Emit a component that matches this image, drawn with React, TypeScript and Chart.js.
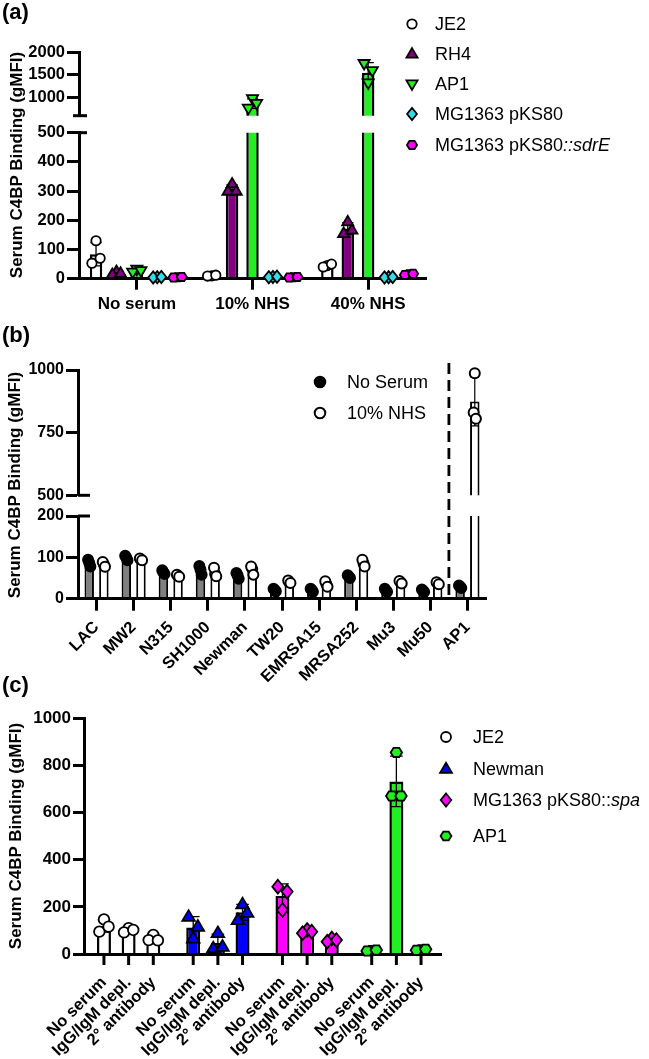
import React, { useEffect, useRef } from 'react';
import { Chart, registerables } from 'chart.js';

Chart.register(...registerables);

const FONT = "'Liberation Sans', Arial, Helvetica, sans-serif";
Chart.defaults.font.family = FONT;
Chart.defaults.color = '#000';

// ---------------- Panel (a) ----------------
const aCategories = ['No serum', '10% NHS', '40% NHS'];
const aSeries = ['JE2', 'RH4', 'AP1', 'MG1363 pKS80', 'MG1363 pKS80::sdrE'];
const aItalic = '::sdrE';
const aColors = ['#ffffff', '#800080', '#22ee22', '#33dde8', '#ff00ff'];
const aShapes = ['circle', 'triangle', 'triangleDown', 'diamond', 'hexagon'];
const aJE2 = [84, 10, 45];
const aJE2Err = [40, 2, 5];
const aJE2Pts = [[130, 53, 70], [10, 9, 12], [45, 40, 50]];
const aRH4 = [20, 308, 172];
const aRH4Err = [5, 14, 20];
const aRH4Pts = [[25, 15, 19], [325, 300, 300], [195, 155, 167]];
const aAP1 = [27, 865, 1550];
const aAP1Err = [5, 105, 220];
const aAP1Pts = [[32, 22, 27], [975, 765, 870], [1320, 1750, 1590]];
const aMG = [5, 6, 5];
const aMGErr = [1, 1, 1];
const aMGPts = [[5, 4, 6], [6, 5, 7], [5, 4, 6]];
const aSdrE = [5, 5, 15];
const aSdrEErr = [1, 1, 2];
const aSdrEPts = [[5, 4, 6], [5, 4, 6], [15, 13, 17]];
const aTopTicks = [1000, 1500, 2000];
const aTopRange = [600, 2000];
const aBottomRange = [0, 500];

// ---------------- Panel (b) ----------------
const bStrains = ['LAC', 'MW2', 'N315', 'SH1000', 'Newman', 'TW20', 'EMRSA15', 'MRSA252', 'Mu3', 'Mu50', 'AP1'];
const bSeries = ['No Serum', '10% NHS'];
const bDividerAfter = 'Mu50';
const bNoSerum = [86, 99, 64, 69, 56, 21, 21, 53, 20, 19, 29];
const bNoSerumErr = [8, 5, 4, 10, 7, 3, 3, 3, 3, 3, 3];
const bNoSerumPts = [[87, 94, 78], [99, 104, 93], [64, 69, 60], [70, 79, 58], [57, 62, 48], [21, 24, 18], [21, 24, 17], [53, 57, 50], [20, 24, 17], [19, 22, 16], [29, 32, 26]];
const bNHS = [83, 95, 55, 63, 69, 41, 35, 86, 40, 37, 874];
const bNHSErr = [6, 2, 3, 11, 10, 3, 6, 8, 3, 3, 97];
const bNHSPts = [[83, 89, 77], [95, 97, 93], [55, 58, 53], [60, 75, 54], [72, 78, 58], [40, 44, 38], [35, 42, 29], [86, 94, 78], [40, 43, 37], [37, 40, 35], [987, 830, 805]];
const bTopRange = [500, 1000];
const bBottomRange = [0, 200];

// ---------------- Panel (c) ----------------
const cGroups = ['JE2', 'Newman', 'MG1363 pKS80::spa', 'AP1'];
const cItalic = 'spa';
const cConditions = ['No serum', 'IgG/IgM depl.', '2° antibody'];
const cColors = ['#ffffff', '#0000ff', '#ff00ff', '#22ee22'];
const cShapes = ['circle', 'triangle', 'diamond', 'hexagon'];
const cNoSerum = [119, 113, 246, 15];
const cNoSerumErr = [26, 46, 52, 2];
const cNoSerumPts = [[147, 95, 116], [66, 158, 116], [187, 286, 265], [15, 13, 17]];
const cIgG = [101, 48, 95, 733];
const cIgGErr = [9, 36, 7, 107];
const cIgGPts = [[110, 92, 102], [89, 24, 31], [102, 88, 95], [856, 671, 671]];
const c2nd = [66, 177, 59, 18];
const c2ndErr = [11, 34, 7, 3];
const c2ndPts = [[81, 59, 58], [211, 144, 175], [66, 52, 59], [18, 16, 20]];
const cRange = [0, 1000];

// ---------------- helpers ----------------
function markerPath(shape: string, x: number, y: number, r: number): string {
  switch (shape) {
    case 'triangle': {
      const t = r * 1.25;
      return `M ${x} ${y - t} L ${x + t * 0.95} ${y + t * 0.62} L ${x - t * 0.95} ${y + t * 0.62} Z`;
    }
    case 'triangleDown': {
      const t = r * 1.25;
      return `M ${x} ${y + t} L ${x + t * 0.95} ${y - t * 0.62} L ${x - t * 0.95} ${y - t * 0.62} Z`;
    }
    case 'diamond':
      return `M ${x} ${y - r * 1.3} L ${x + r * 1.05} ${y} L ${x} ${y + r * 1.3} L ${x - r * 1.05} ${y} Z`;
    case 'hexagon': {
      let d = '';
      for (let k = 0; k < 6; k++) {
        const ang = (Math.PI / 3) * k;
        d += `${k === 0 ? 'M' : 'L'} ${x + r * 1.08 * Math.cos(ang)} ${y + r * 1.0 * Math.sin(ang)} `;
      }
      return d + 'Z';
    }
    default:
      return `M ${x + r} ${y} A ${r} ${r} 0 1 0 ${x - r} ${y} A ${r} ${r} 0 1 0 ${x + r} ${y} Z`;
  }
}

const JITTER = [0, -1, 1];
const pick = (v: any, i: number) => (Array.isArray(v) ? v[i] : v);

const overlayPlugin = {
  id: 'overlay',
  afterDraw(chart: any, _args: any, o: any) {
    if (!o || !o.r) return;
    const ctx: CanvasRenderingContext2D = chart.ctx;
    const a = chart.chartArea;
    const xs = chart.scales.x;
    const ys = chart.scales.y;
    ctx.save();
    ctx.strokeStyle = '#000';
    if (o.dash) {
      const i = o.dash.after;
      const x = (xs.getPixelForValue(i) + xs.getPixelForValue(i + 1)) / 2;
      ctx.lineWidth = 2.8;
      ctx.setLineDash([11, 6]);
      ctx.beginPath();
      ctx.moveTo(x, a.top - o.dash.above);
      ctx.lineTo(x, o.dash.toCanvas ? chart.height : a.bottom);
      ctx.stroke();
      ctx.setLineDash([]);
    }
    ctx.lineWidth = 3;
    if (o.breakBottom) {
      ctx.beginPath();
      ctx.moveTo(a.left - o.breakBottom[0], a.bottom);
      ctx.lineTo(a.left + o.breakBottom[1], a.bottom);
      ctx.stroke();
    }
    if (o.breakTop) {
      ctx.beginPath();
      ctx.moveTo(a.left - o.breakTop[0], a.top);
      ctx.lineTo(a.left + o.breakTop[1], a.top);
      ctx.stroke();
    }
    if (o.barLabels) {
      ctx.font = `bold ${o.labelSize}px ${FONT}`;
      ctx.fillStyle = '#000';
      chart.data.datasets.forEach((_ds: any, di: number) => {
        chart.getDatasetMeta(di).data.forEach((bar: any) => {
          ctx.lineWidth = 3;
          ctx.beginPath();
          ctx.moveTo(bar.x, a.bottom);
          ctx.lineTo(bar.x, a.bottom + o.tickLen);
          ctx.stroke();
          ctx.save();
          ctx.translate(bar.x + o.labelDx, a.bottom + o.tickLen + o.labelDy);
          ctx.rotate(-Math.PI / 4);
          ctx.textAlign = 'right';
          ctx.textBaseline = 'middle';
          ctx.fillText(o.barLabels[di], 0, 0);
          ctx.restore();
        });
      });
    }
    const top = o.clipTop ? a.top : 0;
    const bottom = o.clipBottom ? a.bottom : chart.height;
    ctx.beginPath();
    ctx.rect(0, top, chart.width, bottom - top);
    ctx.clip();
    chart.data.datasets.forEach((ds: any, di: number) => {
      const meta = chart.getDatasetMeta(di);
      meta.data.forEach((bar: any, i: number) => {
        const mean = ds.data[i];
        const err = ds.errors ? ds.errors[i] : 0;
        const x = bar.x;
        const w = bar.width;
        if (err) {
          const y1 = ys.getPixelForValue(mean + err);
          const y0 = ys.getPixelForValue(Math.max(mean - err, 0));
          const c = (w * o.capFrac) / 2;
          ctx.lineWidth = o.errWidth;
          ctx.strokeStyle = '#000';
          ctx.beginPath();
          ctx.moveTo(x, y0);
          ctx.lineTo(x, y1);
          ctx.moveTo(x - c, y1);
          ctx.lineTo(x + c, y1);
          ctx.moveTo(x - c, y0);
          ctx.lineTo(x + c, y0);
          ctx.stroke();
        }
        const pts: number[] = ds.points ? ds.points[i] : [];
        const shape = pick(ds.markerShape, i);
        const fill = pick(ds.markerFill, i);
        pts.forEach((v, k) => {
          const dx = JITTER[k % 3] * w * o.jitter;
          const p = new Path2D(markerPath(shape, x + dx, ys.getPixelForValue(v), o.r));
          ctx.fillStyle = fill;
          ctx.fill(p);
          ctx.lineWidth = o.mlw;
          ctx.strokeStyle = '#000';
          ctx.stroke(p);
        });
      });
    });
    ctx.restore();
  },
};

interface Spec {
  labels: string[];
  datasets: any[];
  canvasTop: number;
  canvasHeight: number;
  areaLeft: number;
  areaRight: number;
  areaTop: number;
  areaBottom: number;
  yRange: number[];
  yStep?: number;
  yTicks?: number[];
  yFont: number;
  yTickLen: number;
  xDisplay: boolean;
  xLabels?: boolean;
  xRotation?: number;
  xFont?: number;
  xTickLen?: number;
  xPad?: number;
  cp: number;
  bp: number;
  borderWidth: number;
  overlay: any;
}

function makeConfig(p: Spec): any {
  const xHeight = p.canvasTop + p.canvasHeight - p.areaBottom;
  return {
    type: 'bar',
    data: {
      labels: p.labels,
      datasets: p.datasets.map((d) => ({
        ...d,
        borderColor: '#000',
        borderWidth: p.borderWidth,
        categoryPercentage: p.cp,
        barPercentage: p.bp,
        clip: 0,
      })),
    },
    options: {
      responsive: false,
      animation: false,
      events: [],
      layout: {
        padding: {
          left: 0,
          right: 649 - p.areaRight,
          top: p.areaTop - p.canvasTop,
          bottom: p.xDisplay ? 0 : xHeight,
        },
      },
      plugins: { legend: { display: false }, tooltip: { enabled: false }, overlay: p.overlay },
      scales: {
        x: {
          display: p.xDisplay,
          offset: true,
          afterFit: (s: any) => {
            s.height = p.xDisplay ? xHeight : 0;
          },
          grid: {
            display: true,
            offset: false,
            drawOnChartArea: false,
            drawTicks: !!p.xLabels,
            tickLength: p.xTickLen || 0,
            tickWidth: 3,
            tickColor: '#000',
            color: '#000',
          },
          border: { display: true, color: '#000', width: 3, z: 1 },
          ticks: {
            display: !!p.xLabels,
            autoSkip: false,
            maxRotation: p.xRotation || 0,
            minRotation: p.xRotation || 0,
            font: { size: p.xFont || 16, weight: 'bold' },
            color: '#000',
            padding: p.xPad ?? 3,
          },
        },
        y: {
          min: p.yRange[0],
          max: p.yRange[1],
          afterFit: (s: any) => {
            s.width = p.areaLeft;
          },
          afterBuildTicks: p.yTicks
            ? (s: any) => {
                s.ticks = (p.yTicks as number[]).map((v) => ({ value: v }));
              }
            : undefined,
          ticks: {
            stepSize: p.yStep,
            font: { size: p.yFont, weight: 'bold' },
            padding: 2,
            color: '#000',
            callback: (v: any) => String(v),
          },
          grid: {
            drawOnChartArea: false,
            tickLength: p.yTickLen,
            tickWidth: 3,
            tickColor: '#000',
            color: '#000',
          },
          border: { display: true, color: '#000', width: 3, z: 1 },
        },
      },
    },
    plugins: [overlayPlugin],
  };
}

function ChartCanvas({ spec }: { spec: Spec }) {
  const ref = useRef<HTMLCanvasElement>(null);
  useEffect(() => {
    if (!ref.current) return;
    const chart = new Chart(ref.current, makeConfig(spec));
    return () => chart.destroy();
  }, []);
  return (
    <canvas
      ref={ref}
      width={649}
      height={spec.canvasHeight}
      style={{ position: 'absolute', left: 0, top: spec.canvasTop, width: 649, height: spec.canvasHeight }}
    />
  );
}

// ---------------- datasets ----------------
const aValues = [aJE2, aRH4, aAP1, aMG, aSdrE];
const aErrs = [aJE2Err, aRH4Err, aAP1Err, aMGErr, aSdrEErr];
const aPts = [aJE2Pts, aRH4Pts, aAP1Pts, aMGPts, aSdrEPts];
const aDatasets = aSeries.map((name, i) => ({
  label: name,
  data: aValues[i],
  errors: aErrs[i],
  points: aPts[i],
  backgroundColor: aColors[i],
  markerShape: aShapes[i],
  markerFill: aColors[i],
}));

const bDatasets = [
  {
    label: bSeries[0],
    data: bNoSerum,
    errors: bNoSerumErr,
    points: bNoSerumPts,
    backgroundColor: '#808080',
    markerShape: 'circle',
    markerFill: '#000000',
  },
  {
    label: bSeries[1],
    data: bNHS,
    errors: bNHSErr,
    points: bNHSPts,
    backgroundColor: '#ffffff',
    markerShape: 'circle',
    markerFill: '#ffffff',
  },
];

const cVals = [cNoSerum, cIgG, c2nd];
const cErrs = [cNoSerumErr, cIgGErr, c2ndErr];
const cPts = [cNoSerumPts, cIgGPts, c2ndPts];
const cDatasets = cConditions.map((name, i) => ({
  label: name,
  data: cVals[i],
  errors: cErrs[i],
  points: cPts[i],
  backgroundColor: cColors,
  markerShape: cShapes,
  markerFill: cColors,
}));

const aMarks = { r: 4.7, mlw: 1.8, errWidth: 1.3, capFrac: 0.9, jitter: 0.33 };
const bMarks = { r: 5, mlw: 2, errWidth: 1.2, capFrac: 0.9, jitter: 0.12 };
const cMarks = { r: 5.3, mlw: 1.8, errWidth: 1.3, capFrac: 0.9, jitter: 0.33 };

const bDivIdx = bStrains.indexOf(bDividerAfter);

const specs: Spec[] = [
  {
    labels: aCategories, datasets: aDatasets, canvasTop: 0, canvasHeight: 128,
    areaLeft: 79, areaRight: 426, areaTop: 52.3, areaBottom: 115.7,
    yRange: aTopRange, yTicks: aTopTicks, yFont: 16.5, yTickLen: 12,
    xDisplay: false, cp: 0.882, bp: 0.61, borderWidth: 2.5,
    overlay: { ...aMarks, clipBottom: true, breakBottom: [6, 8] },
  },
  {
    labels: aCategories, datasets: aDatasets, canvasTop: 119, canvasHeight: 201,
    areaLeft: 79, areaRight: 426, areaTop: 132.7, areaBottom: 278.7,
    yRange: aBottomRange, yStep: 100, yFont: 16.5, yTickLen: 12,
    xDisplay: true, xLabels: true, xRotation: 0, xFont: 17, xTickLen: 11, xPad: 4,
    cp: 0.882, bp: 0.61, borderWidth: 2.5,
    overlay: { ...aMarks, clipTop: true, breakTop: [0, 8] },
  },
  {
    labels: bStrains, datasets: bDatasets, canvasTop: 340, canvasHeight: 176,
    areaLeft: 78, areaRight: 486, areaTop: 370, areaBottom: 495.3,
    yRange: bTopRange, yStep: 250, yFont: 16, yTickLen: 12,
    xDisplay: false, cp: 0.79, bp: 0.646, borderWidth: 2,
    overlay: { ...bMarks, clipBottom: true, breakBottom: [0, 12], dash: { after: bDivIdx, above: 7, toCanvas: true } },
  },
  {
    labels: bStrains, datasets: bDatasets, canvasTop: 500, canvasHeight: 200,
    areaLeft: 78, areaRight: 486, areaTop: 516, areaBottom: 598.7,
    yRange: bBottomRange, yStep: 100, yFont: 16, yTickLen: 12,
    xDisplay: true, xLabels: true, xRotation: 45, xFont: 16.5, xTickLen: 12, xPad: 7,
    cp: 0.79, bp: 0.646, borderWidth: 2,
    overlay: { ...bMarks, clipTop: true, breakTop: [0, 12], dash: { after: bDivIdx, above: 0, toCanvas: false } },
  },
  {
    labels: cGroups, datasets: cDatasets, canvasTop: 700, canvasHeight: 359,
    areaLeft: 84, areaRight: 441, areaTop: 718.5, areaBottom: 954,
    yRange: cRange, yStep: 200, yFont: 17, yTickLen: 11,
    xDisplay: true, xLabels: false, cp: 0.829, bp: 0.567, borderWidth: 2.5,
    overlay: { ...cMarks, barLabels: cConditions, labelSize: 16.5, tickLen: 11, labelDx: 0, labelDy: 15 },
  },
];

// ---------------- HTML text overlays ----------------
function Marker({ shape, fill, r, lw }: { shape: string; fill: string; r: number; lw: number }) {
  return (
    <svg width={24} height={24} style={{ position: 'absolute', left: -12, top: -12, overflow: 'visible' }}>
      <path d={markerPath(shape, 12, 12, r)} fill={fill} stroke="#000" strokeWidth={lw} />
    </svg>
  );
}

function LabelText({ text, italic }: { text: string; italic?: string }) {
  if (italic && text.endsWith(italic)) {
    return (
      <>
        {text.slice(0, text.length - italic.length)}
        <i>{italic}</i>
      </>
    );
  }
  return <>{text}</>;
}

interface LegendItem { text: string; shape: string; fill: string }

function Legend({ items, markerX, textX, rows, r, lw, size, italic }: {
  items: LegendItem[]; markerX: number; textX: number; rows: number[]; r: number; lw: number; size: number; italic?: string;
}) {
  return (
    <>
      {items.map((it, i) => (
        <React.Fragment key={i}>
          <div style={{ position: 'absolute', left: markerX, top: rows[i], width: 0, height: 0 }}>
            <Marker shape={it.shape} fill={it.fill} r={r} lw={lw} />
          </div>
          <div
            style={{
              position: 'absolute', left: textX, top: rows[i], transform: 'translateY(-50%)',
              fontSize: size, lineHeight: `${size + 2}px`, whiteSpace: 'nowrap', color: '#000',
            }}
          >
            <LabelText text={it.text} italic={italic} />
          </div>
        </React.Fragment>
      ))}
    </>
  );
}

function YTitle({ cx, cy }: { cx: number; cy: number }) {
  return (
    <div
      style={{
        position: 'absolute', left: cx, top: cy, transform: 'translate(-50%, -50%) rotate(-90deg)',
        fontSize: 17, fontWeight: 'bold', whiteSpace: 'nowrap', lineHeight: '18px', color: '#000',
      }}
    >
      Serum C4BP Binding (gMFI)
    </div>
  );
}

function PanelLabel({ text, top }: { text: string; top: number }) {
  return (
    <div style={{ position: 'absolute', left: 2, top, fontSize: 22, fontWeight: 'bold', lineHeight: '22px', color: '#000' }}>
      {text}
    </div>
  );
}

export default function App() {
  const aItems = aSeries.map((s, i) => ({ text: s, shape: aShapes[i], fill: aColors[i] }));
  const bItems = [
    { text: bSeries[0], shape: 'circle', fill: '#000000' },
    { text: bSeries[1], shape: 'circle', fill: '#ffffff' },
  ];
  const cItems = cGroups.map((s, i) => ({ text: s, shape: cShapes[i], fill: cColors[i] }));
  return (
    <div style={{ position: 'absolute', left: 0, top: 0, width: 649, height: 1059, background: '#fff', fontFamily: FONT, overflow: 'hidden' }}>
      {specs.map((s, i) => (
        <ChartCanvas key={i} spec={s} />
      ))}
      <PanelLabel text="(a)" top={1} />
      <PanelLabel text="(b)" top={324} />
      <PanelLabel text="(c)" top={674} />
      <YTitle cx={17} cy={165} />
      <YTitle cx={15} cy={485} />
      <YTitle cx={16} cy={836} />
      <Legend items={aItems} markerX={411.7} textX={435} rows={[24, 54.3, 84.3, 114.3, 145]} r={4.7} lw={1.8} size={18} italic={aItalic} />
      <Legend items={bItems} markerX={320} textX={347} rows={[382.3, 412.7]} r={5.3} lw={2} size={18} />
      <Legend items={cItems} markerX={445.8} textX={473} rows={[736.7, 769, 800, 835.7]} r={5} lw={1.8} size={18} italic={cItalic} />
    </div>
  );
}
